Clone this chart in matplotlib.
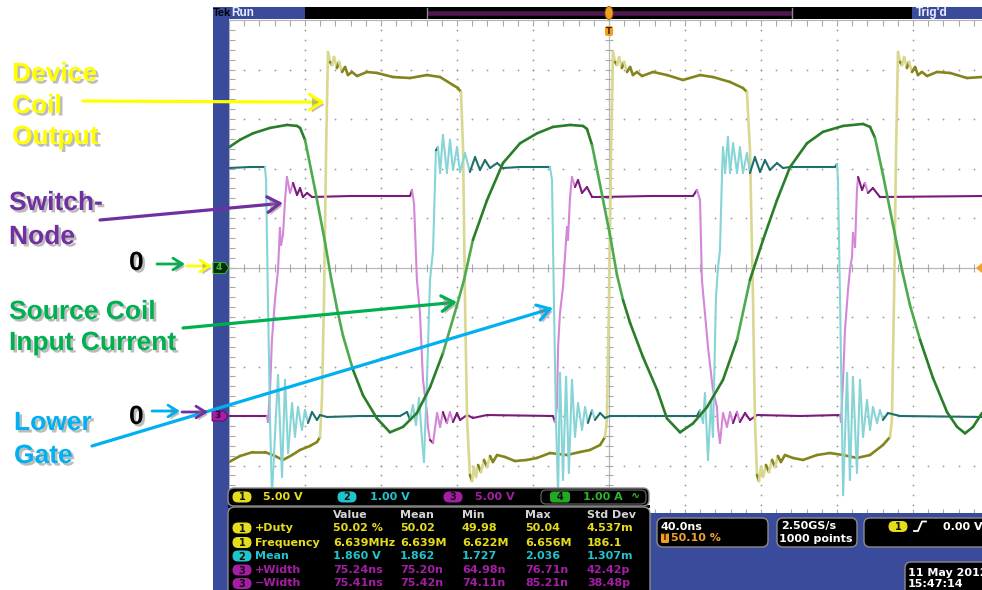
import numpy as np
import matplotlib.pyplot as plt
import matplotlib.patheffects as pe
from matplotlib.collections import LineCollection
from matplotlib.patches import Rectangle, FancyBboxPatch, Polygon, Ellipse

W, H = 982, 590
BLUE = '#3b4b9b'
PANEL_COL = {1: '#e4dc1c', 2: '#20c4cc', 3: '#a41ea4', 4: '#2cb42c'}

# ---- waveforms: (time in ns, value in channel units) ----
# ch1: device coil output [V], 5 V/div, zero at centre
ch1_pts = [
    (0.0, -19.65), (5.8, -19.04), (12.6, -18.64), (18.9, -18.64), (24.2, -19.04), (28.4, -19.44),
    (33.2, -18.94), (37.4, -18.43), (42.6, -18.03), (46.3, -17.63), (47.9, -17.12), (48.9, -13.38),
    (50.0, -3.28), (51.1, 11.87), (52.1, 21.77),
    (53.2, 20.76), (54.2, 20.45), (55.3, 21.26), (56.8, 20.15), (57.9, 20.76), (59.5, 19.75),
    (61.1, 20.25), (62.6, 19.44), (64.7, 19.75), (67.4, 19.34), (72.6, 19.75), (77.9, 19.65),
    (86.3, 19.24), (95.3, 19.14), (104.2, 19.44), (111.1, 19.24), (117.9, 18.43), (120.5, 18.13),
    (122.1, 17.73), (123.2, 11.87), (124.2, -3.28), (125.3, -15.40), (126.8, -20.96), (127.9, -21.57),
    (128.9, -20.15), (130.0, -21.16), (131.1, -19.95), (132.6, -20.66), (134.2, -19.44), (135.8, -20.15),
    (137.4, -19.04), (138.9, -19.65), (141.1, -18.94), (145.3, -19.14), (150.5, -19.55), (156.8, -19.44),
    (162.1, -19.24), (168.9, -18.74), (177.9, -18.94), (184.7, -18.64), (190.0, -18.43), (195.3, -17.93),
    (197.9, -17.12), (198.9, -15.40), (200.0, -3.28), (201.1, 11.87), (202.1, 21.77),
    (203.2, 20.76), (204.2, 20.45), (205.3, 21.26), (206.8, 20.15), (207.9, 20.76), (209.5, 19.75),
    (211.1, 20.25), (212.6, 19.44), (214.7, 19.75), (217.4, 19.34), (223.2, 19.75), (230.5, 19.44),
    (238.9, 18.94), (247.9, 19.44), (254.7, 19.24), (263.7, 18.74), (270.5, 18.13), (272.6, 17.73),
    (274.2, 11.87), (275.8, -3.28), (276.8, -15.40), (277.9, -20.96), (278.9, -21.57),
    (280.0, -20.15), (281.1, -21.16), (282.6, -19.95), (284.2, -20.66), (285.8, -19.44), (287.4, -20.15),
    (288.9, -19.04), (290.5, -19.65), (292.6, -18.94), (296.8, -19.24), (302.1, -19.44), (309.5, -18.94),
    (316.3, -18.74), (323.2, -18.94), (330.5, -19.24), (337.4, -18.94), (344.2, -17.93), (347.9, -17.12),
    (348.9, -15.40), (350.0, -3.28), (351.1, 11.87), (352.1, 21.77),
    (353.2, 20.76), (354.2, 20.45), (355.3, 21.26), (356.8, 20.15), (357.9, 20.76), (359.5, 19.75),
    (361.1, 20.25), (362.6, 19.44), (364.7, 19.75), (367.4, 19.34), (372.6, 19.75), (379.5, 19.65),
    (388.4, 19.14), (396.3, 19.24),
]

# ch2: lower gate [V], 1 V/div, zero 3 div below centre
ch2_pts = [
    (0.0, 5.01), (11.1, 5.03), (18.9, 5.03), (19.5, 4.77), (20.5, 2.34), (21.6, -0.08), (22.6, -1.60),
    (25.8, 0.83), (27.9, -1.23), (29.5, 0.73), (31.1, -0.75), (33.2, 0.26), (34.7, -0.42), (36.3, 0.18),
    (38.4, -0.28), (40.0, 0.12), (41.6, -0.14), (43.7, 0.08), (46.3, -0.08), (47.9, 0.02), (51.6, -0.02),
    (68.9, 0.0), (90.0, 0.0), (93.7, 0.08), (95.3, -0.08), (96.8, 0.22), (98.4, -0.18), (100.0, 0.36),
    (101.6, -0.48), (102.6, -0.93), (104.2, 0.73), (105.8, 2.75), (107.4, 3.35), (108.9, 5.37),
    (110.0, 5.43), (111.1, 4.91), (112.6, 5.68), (114.7, 4.91), (116.3, 5.58), (117.9, 4.97),
    (120.0, 5.43), (121.6, 4.93), (124.2, 5.31), (126.8, 4.93), (129.5, 5.23), (132.1, 4.97),
    (134.7, 5.17), (137.4, 5.01), (141.1, 5.11), (144.2, 5.01), (153.2, 5.03), (168.9, 5.03),
    (170.0, 4.77), (171.0, 2.34), (172.1, -0.08), (173.2, -1.60),
    (174.2, 0.87), (175.8, -1.29), (177.4, 0.79), (178.9, -1.15), (180.5, 0.73), (182.1, -0.42),
    (183.7, 0.26), (185.8, -0.28), (187.4, 0.18), (188.9, -0.14), (191.1, 0.12), (192.6, -0.08),
    (195.3, 0.06), (197.9, -0.04), (200.5, 0.0), (221.6, 0.0), (246.3, 0.0), (247.9, 0.12),
    (249.5, -0.14), (250.5, 0.46), (252.1, -0.89), (253.7, 0.32), (254.7, -0.42), (256.3, 2.40),
    (257.4, 3.01), (258.4, 3.35), (259.5, 4.91), (260.0, 5.43), (261.1, 4.91), (262.6, 5.64),
    (263.7, 4.91), (265.3, 5.51), (267.4, 4.91), (268.9, 5.43), (270.5, 4.91), (272.6, 5.31),
    (274.2, 4.91), (276.8, 5.23), (279.5, 4.93), (282.1, 5.17), (284.7, 4.97), (288.4, 5.11),
    (291.6, 5.01), (295.3, 5.03), (318.9, 5.03), (320.0, 5.09), (320.5, 4.77), (321.6, 2.34),
    (322.6, -0.08), (323.2, -1.60),
    (325.3, 0.87), (326.8, -1.29), (328.4, 0.79), (330.5, -1.15), (332.1, 0.73), (333.7, -0.42),
    (335.8, 0.32), (337.4, -0.28), (338.9, 0.18), (341.1, -0.14), (342.6, 0.12), (344.2, -0.08),
    (346.8, 0.06), (353.2, 0.0), (396.3, -0.02),
]

# ch3: switch node [V], 5 V/div, zero 3 div below centre
ch3_pts = [
    (0.0, 0.0), (20.0, 0.0), (20.5, -0.61), (21.6, 2.63), (22.6, 7.68), (24.2, 11.72), (25.8, 14.75),
    (26.8, 19.0), (27.4, 17.27), (28.4, 18.28), (29.5, 21.82), (30.5, 24.14), (32.1, 22.53),
    (33.7, 23.54), (35.8, 22.32), (37.4, 23.03), (38.9, 22.12), (41.1, 22.53), (43.7, 22.12),
    (63.7, 22.22), (95.3, 22.22), (96.3, 22.83), (97.4, 21.41), (98.9, 13.74), (100.5, 10.40),
    (102.1, 3.64), (104.2, 0.30), (104.7, -1.11), (105.8, -2.42), (107.4, -2.73), (109.5, 0.30),
    (111.1, -1.11), (112.6, 0.40), (114.7, -0.71), (116.3, 0.40), (117.9, -0.61), (120.0, 0.30),
    (121.6, -0.40), (125.3, 0.10), (128.4, -0.20), (135.8, 0.10), (170.5, 0.0), (171.6, -0.61),
    (172.6, 0.91), (173.2, 6.97), (174.2, 10.40), (175.8, 13.03), (177.4, 17.78), (177.9, 19.09),
    (178.4, 17.78), (179.5, 22.12), (180.5, 24.14), (182.1, 23.13), (183.7, 23.84), (185.8, 22.53),
    (188.4, 23.13), (191.1, 22.12), (195.3, 22.12), (221.6, 22.22), (244.2, 22.22), (246.3, 22.83),
    (247.9, 21.82), (248.9, 13.74), (250.5, 10.40), (252.1, 6.97), (254.7, 2.63), (256.8, 0.91),
    (257.4, -1.11), (258.4, -2.73), (260.0, 0.30), (262.1, -1.11), (263.7, 0.40), (265.3, -0.71),
    (267.4, 0.40), (268.9, -0.61), (271.6, 0.30), (274.2, -0.40), (277.9, 0.10), (300.5, 0.0),
    (321.6, 0.10), (322.1, -0.61), (323.2, 3.64), (324.2, 8.69), (325.8, 12.73), (326.8, 14.75),
    (327.9, 16.06), (328.4, 18.49), (329.5, 17.07), (330.5, 22.83), (331.1, 24.14), (333.2, 22.83),
    (334.7, 23.54), (336.3, 22.53), (338.9, 23.03), (342.6, 22.12), (396.3, 22.22),
]

# ch4: source coil input current [A], 1 A/div, zero at centre
ch4_pts = [
    (0.0, 2.43), (5.8, 2.58), (12.6, 2.71), (21.6, 2.82), (30.5, 2.88), (35.8, 2.86), (37.4, 2.82),
    (40.0, 2.58), (45.3, 1.57), (50.5, 0.52), (53.7, -0.21), (56.8, -0.82), (60.0, -1.38),
    (65.3, -2.07), (70.5, -2.58), (77.9, -3.05), (84.7, -3.33), (91.6, -3.22), (98.9, -2.94),
    (105.8, -2.42), (112.6, -1.73), (120.0, -0.76), (123.7, -0.25), (128.4, 0.56), (135.8, 1.36),
    (144.2, 2.11), (153.2, 2.51), (162.1, 2.71), (170.5, 2.84), (179.5, 2.88), (186.3, 2.86),
    (188.4, 2.80), (191.1, 2.47), (195.3, 1.67), (200.5, 0.66), (204.2, -0.15), (207.4, -0.66),
    (211.1, -1.12), (217.9, -1.81), (225.3, -2.47), (230.5, -3.05), (237.4, -3.33), (244.2, -3.15),
    (251.6, -2.82), (260.0, -2.27), (267.4, -1.46), (274.2, -0.25), (281.1, 0.56), (288.4, 1.36),
    (295.3, 2.03), (304.2, 2.51), (312.6, 2.74), (323.2, 2.86), (333.7, 2.90), (337.4, 2.84),
    (340.0, 2.62), (344.2, 1.87), (349.5, 0.86), (354.2, -0.05), (358.4, -0.76), (363.7, -1.46),
    (370.5, -2.23), (377.9, -2.92), (383.2, -3.22), (387.4, -3.35), (391.6, -3.22), (396.3, -2.94),
]

# volts (amps) per division and zero position in divisions
ch_scale = {1: 5.0, 2: 1.0, 3: 5.0, 4: 1.0}
ch_offset = {1: 0.0, 2: -3.0, 3: -3.0, 4: 0.0}
ch_dark = {1: '#84841c', 2: '#1f6e6e', 3: '#7a1a7a', 4: '#2a7e2a'}
ch_light = {1: '#d8d890', 2: '#86d4d6', 3: '#d486d8', 4: '#4eaa4e'}

ch_names = ['5.00 V', '1.00 V', '5.00 V', '1.00 A']
meas_header = ['Value', 'Mean', 'Min', 'Max', 'Std Dev']
meas_rows = [
    (1, '+Duty', ['50.02 %', '50.02', '49.98', '50.04', '4.537m']),
    (1, 'Frequency', ['6.639MHz', '6.639M', '6.622M', '6.656M', '186.1']),
    (2, 'Mean', ['1.860 V', '1.862', '1.727', '2.036', '1.307m']),
    (3, '+Width', ['75.24ns', '75.20n', '64.98n', '76.71n', '42.42p']),
    (3, '\u2212Width', ['75.41ns', '75.42n', '74.11n', '85.21n', '38.48p']),
]

fig = plt.figure(figsize=(W / 100, H / 100), dpi=100)
fig.patch.set_facecolor('white')

# ---- graticule ----
rect = [229 / W, (H - 515) / H, 760 / W, 495 / H]
ax = fig.add_axes(rect, zorder=1)
ax.set_xlim(0, 400)
ax.set_ylim(-5, 5)
ax.set_xticks(np.arange(0, 401, 40))
ax.set_xticks(np.arange(0, 401, 8), minor=True)
ax.set_yticks(np.arange(-5, 5.1, 1))
ax.set_yticks(np.arange(-5, 5.01, 0.2), minor=True)
ax.tick_params(which='both', direction='in', top=True, right=True, length=4, width=0.8,
               color='#a8a8a8', labelleft=False, labelbottom=False)
for s in ax.spines.values():
    s.set_color('#b4b4b4')
    s.set_linewidth(0.8)

mx = np.arange(0, 400.1, 8)
my = np.arange(-5, 5.01, 0.2)
for gx in range(40, 400, 40):
    if gx != 200:
        ax.plot(np.full_like(my, gx), my, ls='none', marker='o', ms=1.3, mew=0, color='#9c9c9c')
for gy in range(-4, 5):
    if gy != 0:
        ax.plot(mx, np.full_like(mx, gy), ls='none', marker='o', ms=1.3, mew=0, color='#9c9c9c')
ax.axhline(0, color='#b8b8b8', lw=0.9)
ax.axvline(200, color='#b8b8b8', lw=0.9)
ax.plot(mx, np.zeros_like(mx), ls='none', marker='|', ms=6, mew=0.8, color='#a8a8a8')
ax.plot(np.full_like(my, 200), my, ls='none', marker='_', ms=6, mew=0.8, color='#a8a8a8')

# ---- traces, one axes per channel with its own vertical scale ----
ch_ax = {}
for z, ch, pts in [(2, 3, ch3_pts), (3, 1, ch1_pts), (4, 2, ch2_pts), (5, 4, ch4_pts)]:
    cax = fig.add_axes(rect, zorder=z)
    s, off = ch_scale[ch], ch_offset[ch]
    cax.set_xlim(0, 400)
    cax.set_ylim((-5 - off) * s, (5 - off) * s)
    cax.axis('off')
    t, v = np.array(pts).T
    seg = np.stack([np.column_stack([t[:-1], v[:-1]]), np.column_stack([t[1:], v[1:]])], axis=1)
    slope = np.abs(np.diff(v) / s) / (np.diff(t) / 40.0)
    cols = [ch_light[ch] if k > 5 else ch_dark[ch] for k in slope]
    lw = 1.9 if ch in (1, 4) else 1.5
    cax.add_collection(LineCollection(seg, colors=cols, linewidths=lw, capstyle='round'))
    ch_ax[ch] = cax

# ---- overlay in pixel coordinates ----
ov = fig.add_axes([0, 0, 1, 1], zorder=10)
ov.set_xlim(0, W)
ov.set_ylim(H, 0)
ov.axis('off')


def rbox(x0, y0, x1, y1, r=5, fc='black', ec='#8c8c8c', lw=1.0, z=3):
    ov.add_patch(FancyBboxPatch((x0, y0), x1 - x0, y1 - y0, boxstyle=f'round,pad=0,rounding_size={r}',
                                fc=fc, ec=ec, lw=lw, zorder=z))


def txt(x, y, s, c='white', fs=8, **kw):
    ov.text(x, y, s, color=c, fontsize=fs, fontweight='bold', va='center', ha='left', zorder=6, **kw)


def pill(xc, yc, num, fc, w=19, h=11):
    rbox(xc - w / 2, yc - h / 2, xc + w / 2, yc + h / 2, r=h / 2, fc=fc, ec='none', z=5)
    ov.text(xc, yc + 0.5, num, ha='center', va='center', color='#101010', fontsize=7,
            fontweight='bold', zorder=6)


# scope frame
ov.add_patch(Rectangle((213, 7), 16, H, fc=BLUE, ec='none', zorder=2))
ov.add_patch(Rectangle((213, 7), 92, 12, fc=BLUE, ec='none', zorder=2))
ov.add_patch(Rectangle((305, 7), 607, 12, fc='black', ec='none', zorder=2))
ov.add_patch(Rectangle((427, 10.5), 365, 4, fc='#5c105c', ec='#2a2a2a', lw=0.6, zorder=3))
ov.plot([427, 427], [8, 18], color='#8a8a8a', lw=1, zorder=3)
ov.plot([792, 792], [8, 18], color='#8a8a8a', lw=1, zorder=3)
ov.add_patch(Rectangle((912, 7), 70, 12, fc=BLUE, ec='none', zorder=2))
txt(212.5, 13, 'Tek', c='black', fs=8, family='Liberation Sans')
txt(231, 13, 'Run', c='#e8ecff', fs=8.5, family='Liberation Sans')
txt(916, 13, "Trig'd", c='#e8ecff', fs=8.5, family='Liberation Sans')
# trigger position markers
ov.add_patch(Ellipse((609, 13), 8, 13, fc='#f0a020', ec='#8a5a10', lw=0.6, zorder=4))
rbox(605, 26, 613, 36, r=2, fc='#f0a020', ec='none', z=4)
ov.text(609, 31, 'T', ha='center', va='center', fontsize=6, fontweight='bold', color='#402000', zorder=6)
ov.add_patch(Polygon([(982, 263), (976, 268), (982, 273)], fc='#f0a020', ec='none', zorder=4))
# channel ground markers
ov.add_patch(Polygon([(213, 262.5), (225, 262.5), (229, 268), (225, 273.5), (213, 273.5)],
                     fc='#082a08', ec='#30b030', lw=0.8, zorder=4))
ov.text(219, 268, '4', ha='center', va='center', fontsize=6.5, fontweight='bold', color='#40c040', zorder=6)
ov.add_patch(Polygon([(212, 411), (224, 411), (228, 416), (224, 421), (212, 421)],
                     fc='#a81ea8', ec='#600060', lw=0.6, zorder=4))
ov.text(218, 416, '3', ha='center', va='center', fontsize=6.5, fontweight='bold', color='#300030', zorder=6)

# bottom panels
ov.add_patch(Rectangle((650, 513), W - 650, H - 513, fc=BLUE, ec='none', zorder=2))
ov.add_patch(Rectangle((228, 505), 422, 3, fc='#101010', ec='none', zorder=2))
rbox(228, 488, 649, 506, r=6)
rbox(541, 490, 646, 504, r=5, fc='black', ec='#6a6a6a', lw=0.8, z=4)
for xc, xt, ch in [(242, 263, 1), (347, 370, 2), (453, 475, 3)]:
    pill(xc, 497, str(ch), PANEL_COL[ch])
    txt(xt, 497, ch_names[ch - 1], c=PANEL_COL[ch])
rbox(550, 491.5, 570, 502.5, r=3, fc='#22a822', ec='none', z=5)
ov.text(560, 497.5, '4', ha='center', va='center', fontsize=7, fontweight='bold', color='#101010', zorder=6)
txt(583, 497, ch_names[3], c=PANEL_COL[4])
txt(631, 496, '\u223f', c=PANEL_COL[4], fs=8)

rbox(228, 507, 650, 600, r=7)
col_x = [333, 400, 462, 525, 587]
row_y = [528, 542.5, 556, 570, 583.5]
for x, s in zip(col_x, meas_header):
    txt(x, 515.5, s, c='#d4d4d4')
for (ch, name, vals), y in zip(meas_rows, row_y):
    pill(242, y, str(ch), PANEL_COL[ch])
    txt(255, y, name, c=PANEL_COL[ch])
    for x, s in zip(col_x, vals):
        txt(x, y, s, c=PANEL_COL[ch])

rbox(657, 518, 768, 547, r=6)
txt(661, 527, '40.0ns')
rbox(661, 533, 669, 543, r=1.5, fc='#f0a020', ec='none', z=5)
ov.text(665, 538, 'T', ha='center', va='center', fontsize=6, fontweight='bold', color='#402000', zorder=6)
txt(671, 538, '50.10 %', c='#f0a030')
rbox(777, 518, 857, 547, r=6)
txt(781, 526.5, '2.50GS/s')
txt(779, 538.5, '1000 points')
rbox(864, 518, 995, 547, r=6)
pill(898, 526.5, '1', PANEL_COL[1])
ov.plot([914, 918, 922, 926], [531, 531, 521.5, 521.5], color='white', lw=1.3, zorder=6)
txt(943, 526.5, '0.00 V')
rbox(905, 562, 995, 600, r=6)
txt(908, 572.5, '11 May 2012')
txt(908, 584, '15:47:14')

# ---- annotations ----
shadow = [pe.SimplePatchShadow(offset=(1.8, -1.8), shadow_rgbFace='#7a7a7a', alpha=0.5), pe.Normal()]


def label(lines, x, ys, color):
    for s, y in zip(lines, ys):
        ov.text(x, y, s, color=color, fontsize=19, fontweight='bold', family='Liberation Sans',
                va='center', ha='left', zorder=8, path_effects=shadow)


def arrow(start, tip, color, ch=None, lw=2.3, ms=20):
    kw = dict(xycoords=ch_ax[ch].transData) if ch else {}
    a = ov.annotate('', xy=tip, xytext=start, textcoords='data', zorder=8, annotation_clip=False,
                    arrowprops=dict(arrowstyle='->,head_length=0.45,head_width=0.28', color=color,
                                    lw=lw, mutation_scale=ms, shrinkA=0, shrinkB=0), **kw)
    a.arrow_patch.set_path_effects(shadow)


YELLOW, PURPLE, GREEN, CYAN = '#ffff00', '#7030a0', '#00b050', '#00b0f0'

label(['Device', 'Coil', 'Output'], 12, [74, 106, 137], YELLOW)
arrow((83, 101), (50.5, 16.7), YELLOW, ch=1)
label(['Switch-', 'Node'], 9, [203, 237], PURPLE)
arrow((100, 220), (28.4, 21.5), PURPLE, ch=3)
label(['Source Coil', 'Input Current'], 9, [312, 343], GREEN)
arrow((183, 328), (120.0, -0.70), GREEN, ch=4)
label(['Lower', 'Gate'], 14, [423, 456], CYAN)
arrow((92, 446), (170.5, 2.18), CYAN, ch=2)

label(['0'], 129, [263], 'black')
arrow((157, 264), (185, 264), GREEN, lw=2, ms=15)
arrow((187, 266), (212, 266), YELLOW, lw=2, ms=15)
label(['0'], 129, [417], 'black')
arrow((152, 411), (180, 411), CYAN, lw=2, ms=15)
arrow((182, 412), (208, 412), PURPLE, lw=2, ms=15)

fig.savefig('out.png', dpi=100)
